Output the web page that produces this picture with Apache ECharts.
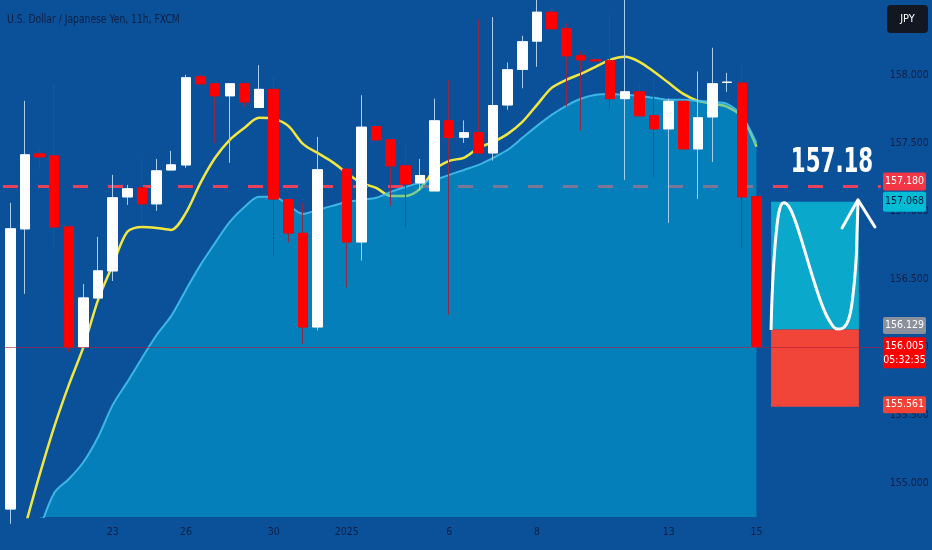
<!DOCTYPE html>
<html><head><meta charset="utf-8">
<style>html,body{margin:0;padding:0;background:#0b519a;}#c{width:932px;height:550px;}</style>
<script src="https://cdn.jsdelivr.net/npm/echarts@6/dist/echarts.min.js"></script>
</head><body><div id="c"></div><script>
// x-axis tick labels per slot (60 slots; candles occupy 0..51, 52..59 is projection space)
const tickLabels = ['','','','','','','','23','','','','','26','','','','','','30','','','','','2025','','','','','','','6','','','','','','8','','','','','','','','','13','','','','','','15','','','','','','','',''];
const categories = tickLabels.map((t, i) => 'slot' + i);
// candles: [open, close, low, high]
const candles = [
 [154.809,156.868,154.700,157.059],[156.868,157.412,156.390,157.809],[157.419,157.397,157.309,157.449],
 [157.404,156.882,156.728,157.934],[156.882,156.000,155.963,156.882],[156.000,156.360,156.000,156.463],
 [156.360,156.559,156.360,156.809],[156.559,157.096,156.485,157.265],[157.103,157.162,157.044,157.191],
 [157.169,157.052,156.890,157.390],[157.052,157.294,157.000,157.382],[157.301,157.338,157.301,157.441],
 [157.338,157.978,157.316,158.000],[157.985,157.934,157.934,158.000],[157.934,157.846,157.500,157.934],
 [157.846,157.934,157.353,157.934],[157.934,157.801,157.765,157.934],[157.760,157.893,157.760,158.071],
 [157.893,157.088,156.665,157.982],[157.083,156.838,156.767,157.083],[156.835,156.147,156.022,157.059],
 [156.147,157.302,156.121,157.544],null,[157.306,156.772,156.438,157.306],
 [156.772,157.615,156.635,157.850],[157.620,157.522,157.515,157.640],[157.522,157.331,157.037,157.522],
 [157.331,157.198,156.882,157.493],[157.206,157.260,157.147,157.382],[157.147,157.662,157.147,157.825],
 [157.662,157.539,156.235,157.963],[157.542,157.574,157.500,157.665],[157.574,157.426,157.426,158.407],
 [157.426,157.774,157.369,158.425],[157.779,158.037,157.743,158.091],[158.040,158.243,157.901,158.287],
 [158.248,158.460,158.059,158.600],[158.460,158.338,158.338,158.493],[158.338,158.140,157.767,158.379],
 [158.140,158.110,157.590,158.172],[158.110,158.103,158.090,158.118],[158.103,157.825,157.754,158.445],
 [157.825,157.875,157.228,158.600],[157.875,157.699,157.699,157.934],[157.699,157.603,157.250,157.971],
 [157.603,157.805,156.912,157.825],[157.805,157.456,157.456,157.805],[157.456,157.684,157.088,158.025],
 [157.691,157.934,157.360,158.199],[157.944,157.946,157.875,158.015],[157.939,157.103,156.728,158.076],
 [157.103,156.005,156.005,157.103]
];
// fast moving average (yellow)
const fastMA = [null,154.676,155.059,155.412,155.721,156.000,156.346,156.603,156.846,156.882,156.875,156.860,
 156.985,157.206,157.390,157.522,157.610,157.684,157.676,157.625,157.493,157.426,157.360,157.279,157.206,
 157.169,157.110,157.110,157.162,157.302,157.368,157.390,157.463,157.507,157.566,157.654,157.779,157.904,
 157.963,158.007,158.059,158.110,158.132,158.096,158.022,157.941,157.860,157.809,157.787,157.765,157.691,157.471];
// slow moving average (area)
const slowMA = [null,null,154.654,154.927,155.029,155.154,155.338,155.574,155.743,155.919,156.088,156.228,
 156.419,156.603,156.765,156.919,157.029,157.103,157.103,157.044,156.978,157.007,157.037,157.066,157.081,
 157.096,157.140,157.176,157.206,157.228,157.265,157.301,157.338,157.390,157.449,157.537,157.625,157.706,
 157.772,157.824,157.853,157.860,157.853,157.846,157.831,157.816,157.816,157.809,157.801,157.787,157.699,157.500];
const yTicks = [155.0,155.5,156.0,156.5,157.0,157.5,158.0];
const levelPrice = 157.18;
const lastPrice = 156.005;
const forecast = {fromSlot: 52, toSlot: 58, target: 157.068, entry: 156.129, stop: 155.561};
// hand-drawn projection path: [slot, price]
const projectionPath = [[52.00,156.125],[52.06,156.346],[52.20,156.640],[52.41,156.897],[52.61,157.022],[52.88,157.059],
 [53.23,157.029],[53.63,156.934],[54.18,156.750],[54.80,156.529],[55.48,156.309],[56.03,156.184],[56.51,156.132],
 [56.92,156.140],[57.33,156.213],[57.60,156.382],[57.81,156.640],[57.88,156.860],[57.94,157.059]];
const arrowHead = [[56.85,156.875],[57.94,157.081],[59.10,156.882]];
const priceTags = [
 {price:157.180, text:'157.180', bg:'#f23645', fg:'#ffffff', shift:-5, h:18},
 {price:157.068, text:'157.068', bg:'#00bcd4', fg:'#0b1c3d', shift:0, h:20},
 {price:156.129, text:'156.129', bg:'#8a909c', fg:'#ffffff', shift:-4, h:17},
 {price:155.561, text:'155.561', bg:'#f44336', fg:'#ffffff', shift:-2, h:17}
];
const countdown = '05:32:35';
const title = 'U.S. Dollar / Japanese Yen, 11h, FXCM';

const FONT = "'Liberation Sans Narrow','DejaVu Sans Condensed',sans-serif";
const TXT = '#0c1f44';
const chart = echarts.init(document.getElementById('c'), null, {renderer:'canvas'});
const wickData = candles.map(d => d ? d : '-');
const bodyData = candles.map(d => d ? [d[0], d[1], Math.min(d[0], d[1]), Math.max(d[0], d[1])] : '-');

chart.setOption({
  animation: false,
  backgroundColor: '#0b519a',
  grid: {left: 3, right: 51.2, top: 0, bottom: 33},
  xAxis: [
    {type: 'category', data: categories, boundaryGap: true,
     axisLine: {show: false}, axisTick: {show: false}, splitLine: {show: false},
     axisLabel: {interval: 0, formatter: (v, i) => tickLabels[i], color: TXT, fontFamily: FONT, fontSize: 10.5, margin: 10}},
    {type: 'value', min: -0.5, max: 59.5, show: false}
  ],
  yAxis: {type: 'value', position: 'right', min: 154.75, max: 158.55, scale: true,
    axisLine: {show: false}, axisTick: {show: false}, splitLine: {show: false},
    axisLabel: {customValues: yTicks, formatter: v => v.toFixed(3), color: TXT, fontFamily: FONT, fontSize: 10.5, margin: 9, align: 'left'}},
  series: [
    {name: 'fast', type: 'line', data: fastMA, z: 1, smooth: 0.3, symbol: 'none', connectNulls: false,
     lineStyle: {color: '#f2e640', width: 2.5},
     markLine: {silent: true, z: 2, symbol: ['none','none'], label: {show: false},
       lineStyle: {type: [15, 20], color: '#e8425a', width: 3}, data: [{yAxis: levelPrice}]}},
    {name: 'slow', type: 'line', data: slowMA, z: 3, smooth: 0.3, symbol: 'none',
     lineStyle: {color: 'rgba(70,195,240,0.85)', width: 2},
     areaStyle: {color: 'rgba(0,180,220,0.68)', origin: 'start'}},
    {name: 'wicks', type: 'candlestick', data: wickData, z: 4, barWidth: 10,
     itemStyle: {color: 'rgba(0,0,0,0)', color0: 'rgba(0,0,0,0)', borderColor: '#a9cdf0', borderColor0: '#8e2a48', borderWidth: 1}},
    {name: 'bodies', type: 'candlestick', data: bodyData, z: 5, barWidth: 10,
     itemStyle: {color: '#ffffff', color0: '#ff0000', borderColor: '#ffffff', borderColor0: '#ff0000', borderWidth: 1},
     markLine: {silent: true, z: 7, symbol: ['none','none'], label: {show: false},
       lineStyle: {type: 'solid', color: 'rgba(175,30,55,0.6)', width: 1}, data: [{yAxis: lastPrice}]}},
    {name: 'projection', type: 'line', xAxisIndex: 1, data: projectionPath, z: 6, smooth: 0.4, symbol: 'none', clip: false,
     lineStyle: {color: '#ffffff', width: 3},
     markArea: {silent: true, z: 1, data: [
       [{xAxis: forecast.fromSlot, yAxis: forecast.target, itemStyle: {color: '#0aa8cb'}}, {xAxis: forecast.toSlot, yAxis: forecast.entry}],
       [{xAxis: forecast.fromSlot, yAxis: forecast.entry, itemStyle: {color: '#f2453a'}}, {xAxis: forecast.toSlot, yAxis: forecast.stop}]
     ]}},
    {name: 'arrow', type: 'line', xAxisIndex: 1, data: arrowHead, z: 6, symbol: 'none', clip: false,
     lineStyle: {color: '#ffffff', width: 3, cap: 'round', join: 'round'}}
  ]
});

const py = v => chart.convertToPixel({yAxisIndex: 0}, v);
const tagX = 883, tagW = 43, TAGFONT = '10.5px ' + FONT;
const g = [];
priceTags.forEach(t => {
  const cy = py(t.price) + t.shift;
  g.push({type: 'rect', z: 100, shape: {x: tagX, y: cy - t.h / 2, width: tagW, height: t.h, r: 2}, style: {fill: t.bg}});
  g.push({type: 'text', z: 101, x: tagX + tagW / 2, y: cy, style: {text: t.text, fill: t.fg, font: TAGFONT, align: 'center', verticalAlign: 'middle'}});
});
{
  const top = py(lastPrice) - 9;
  g.push({type: 'rect', z: 100, shape: {x: tagX, y: top, width: tagW, height: 31, r: 2}, style: {fill: '#ff0000'}});
  g.push({type: 'text', z: 101, x: tagX + tagW / 2, y: top + 9, style: {text: lastPrice.toFixed(3), fill: '#fff', font: TAGFONT, align: 'center', verticalAlign: 'middle'}});
  g.push({type: 'text', z: 101, x: tagX + tagW / 2, y: top + 23, style: {text: countdown, fill: '#fff', font: TAGFONT, align: 'center', verticalAlign: 'middle'}});
}
g.push({type: 'text', z: 101, x: 832, y: py(levelPrice) - 23, scaleX: 0.72, style: {text: levelPrice.toFixed(2), fill: '#ffffff', font: 'bold 33px ' + FONT, align: 'center', verticalAlign: 'middle'}});
g.push({type: 'text', z: 101, x: 7, y: 20, scaleX: 0.82, style: {text: title, fill: TXT, font: '12.5px ' + FONT, align: 'left', verticalAlign: 'middle'}});
g.push({type: 'rect', z: 100, shape: {x: 887, y: 5, width: 41, height: 28, r: 4}, style: {fill: '#131722'}});
g.push({type: 'text', z: 101, x: 907.5, y: 19, style: {text: 'JPY', fill: '#ffffff', font: '11px ' + FONT, align: 'center', verticalAlign: 'middle'}});
chart.setOption({graphic: g});
</script></body></html>
